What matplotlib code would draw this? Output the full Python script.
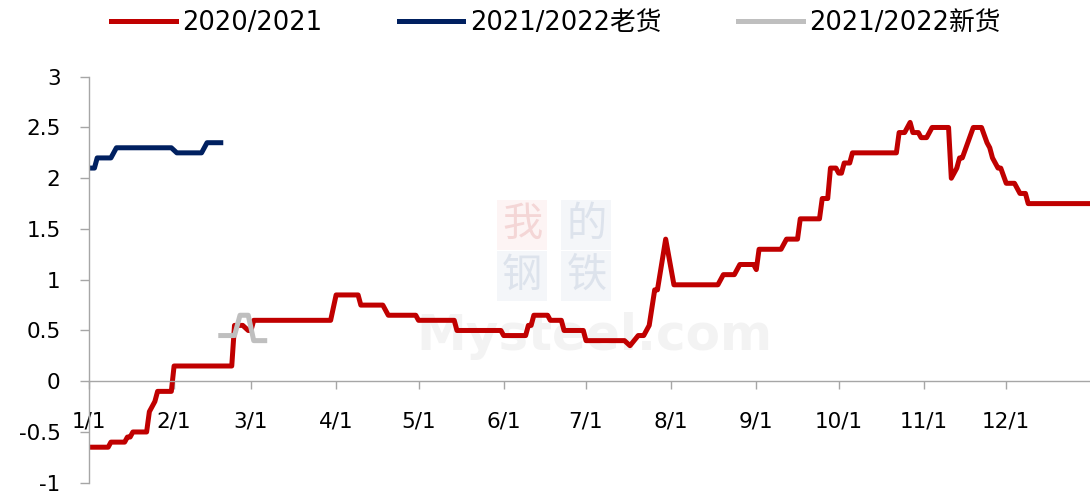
# spread chart: 2020/2021 vs 2021/2022 old / new crop
import matplotlib
matplotlib.use("Agg")
import matplotlib.pyplot as plt
import pandas as pd

plt.rcParams['font.family'] = ['DejaVu Sans', 'Noto Sans CJK SC']

# DATA (axis year is a plain non-leap year, only month/day matter)
red_dates = ["01-01", "01-08", "01-09", "01-14", "01-15", "01-16", "01-17", "01-22",
             "01-23", "01-24", "01-25", "01-26", "01-31", "02-01", "02-22", "02-23",
             "02-26", "02-28", "03-01", "03-02", "03-30", "04-01", "04-09", "04-10",
             "04-18", "04-20", "04-30", "05-01", "05-14", "05-15", "05-31", "06-01",
             "06-09", "06-10", "06-11", "06-12", "06-17", "06-18", "06-22", "06-23",
             "06-30", "07-01", "07-15", "07-17", "07-20", "07-22", "07-24", "07-26",
             "07-27", "07-30", "08-02", "08-18", "08-20", "08-24", "08-26", "08-31",
             "09-01", "09-02", "09-10", "09-12", "09-16", "09-17", "09-24", "09-25",
             "09-27", "09-28", "09-30", "10-01", "10-02", "10-03", "10-05", "10-06",
             "10-22", "10-23", "10-25", "10-27", "10-28", "10-30", "10-31", "11-02",
             "11-04", "11-10", "11-11", "11-13", "11-14", "11-15", "11-19", "11-22",
             "11-24", "11-25", "11-26", "11-28", "11-29", "12-01", "12-04", "12-06",
             "12-08", "12-09", "12-31"]
red_values = [-0.65, -0.65, -0.60, -0.60, -0.55, -0.55, -0.50, -0.50,
              -0.30, -0.25, -0.20, -0.10, -0.10, 0.15, 0.15, 0.55,
              0.55, 0.50, 0.50, 0.60, 0.60, 0.85, 0.85, 0.75,
              0.75, 0.65, 0.65, 0.60, 0.60, 0.50, 0.50, 0.45,
              0.45, 0.55, 0.55, 0.65, 0.65, 0.60, 0.60, 0.50,
              0.50, 0.40, 0.40, 0.35, 0.45, 0.45, 0.55, 0.90,
              0.90, 1.40, 0.95, 0.95, 1.05, 1.05, 1.15, 1.15,
              1.10, 1.30, 1.30, 1.40, 1.40, 1.60, 1.60, 1.80,
              1.80, 2.10, 2.10, 2.05, 2.05, 2.15, 2.15, 2.25,
              2.25, 2.45, 2.45, 2.55, 2.45, 2.45, 2.40, 2.40,
              2.50, 2.50, 2.00, 2.10, 2.20, 2.20, 2.50, 2.50,
              2.35, 2.30, 2.20, 2.10, 2.10, 1.95, 1.95, 1.85,
              1.85, 1.75, 1.75]

old_dates = ["01-01", "01-03", "01-04", "01-09", "01-11", "01-31", "02-02", "02-11", "02-13", "02-18"]
old_values = [2.10, 2.10, 2.20, 2.20, 2.30, 2.30, 2.25, 2.25, 2.35, 2.35]

new_dates = ["02-18", "02-23", "02-25", "02-28", "03-02", "03-06"]
new_values = [0.45, 0.45, 0.65, 0.65, 0.40, 0.40]

series_labels = ["2020/2021", "2021/2022老货", "2021/2022新货"]
series_colors = ["#C00000", "#002060", "#BFBFBF"]

month_ticks = ["01-01", "02-01", "03-01", "04-01", "05-01", "06-01",
               "07-01", "08-01", "09-01", "10-01", "11-01", "12-01"]
tick_labels = ["1/1", "2/1", "3/1", "4/1", "5/1", "6/1",
               "7/1", "8/1", "9/1", "10/1", "11/1", "12/1"]
y_ticks = [-1, -0.5, 0, 0.5, 1, 1.5, 2, 2.5, 3]
y_tick_labels = ["-1", "-0.5", "0", "0.5", "1", "1.5", "2", "2.5", "3"]


def to_dates(md):
    return pd.to_datetime(["2021-" + d for d in md])


fig = plt.figure(figsize=(10.9, 4.95), dpi=100)
ax = fig.add_axes([0.0816, 0.0248, 0.9184, 0.8202])

# faint watermark behind the axes
wm = [("我", 0.479, 0.545, "#F4D6D6", "#FDF4F4"),
      ("的", 0.538, 0.545, "#DDE3EC", "#F4F6F9"),
      ("钢", 0.479, 0.443, "#DDE3EC", "#F4F6F9"),
      ("铁", 0.538, 0.443, "#DDE3EC", "#F4F6F9")]
for ch, xx, yy, tc, bc in wm:
    fig.text(xx, yy, ch, fontsize=29, color=tc, ha="center", va="center", zorder=-2,
             bbox=dict(boxstyle="square,pad=0.12", fc=bc, ec="none"))
fig.text(0.545, 0.322, "Mysteel.com", fontsize=36, fontweight="bold", color="#F3F3F3",
         ha="center", va="center", zorder=-1)

all_series = [(red_dates, red_values), (old_dates, old_values), (new_dates, new_values)]
for (d, v), lab, col in zip(all_series, series_labels, series_colors):
    ax.plot(to_dates(d), v, color=col, lw=3.6, label=lab, solid_joinstyle="round")

ax.set_xlim(pd.Timestamp("2021-01-01"), pd.Timestamp("2021-12-31 12:00"))
ax.set_ylim(-1, 3)
ax.patch.set_alpha(0)

ax.set_xticks(to_dates(month_ticks))
ax.set_xticklabels(tick_labels)
ax.set_yticks(y_ticks)
ax.set_yticklabels(y_tick_labels)

for s in ["top", "right"]:
    ax.spines[s].set_visible(False)
ax.spines["bottom"].set_position(("data", 0))
for s in ["left", "bottom"]:
    ax.spines[s].set_color("#A6A6A6")
    ax.spines[s].set_linewidth(1.0)

ax.tick_params(axis="x", direction="out", length=6, width=1, color="#A6A6A6",
               pad=16, labelsize=15.5)
ax.tick_params(axis="y", direction="out", length=6.5, width=1, color="#A6A6A6",
               pad=14, labelsize=15.5)

fig.legend(loc="center", bbox_to_anchor=(0.51, 0.953), ncol=3, frameon=False,
           fontsize=18.5, handlelength=2.5, handletextpad=0.25, columnspacing=3.0)

fig.savefig("out.png", dpi=100)
